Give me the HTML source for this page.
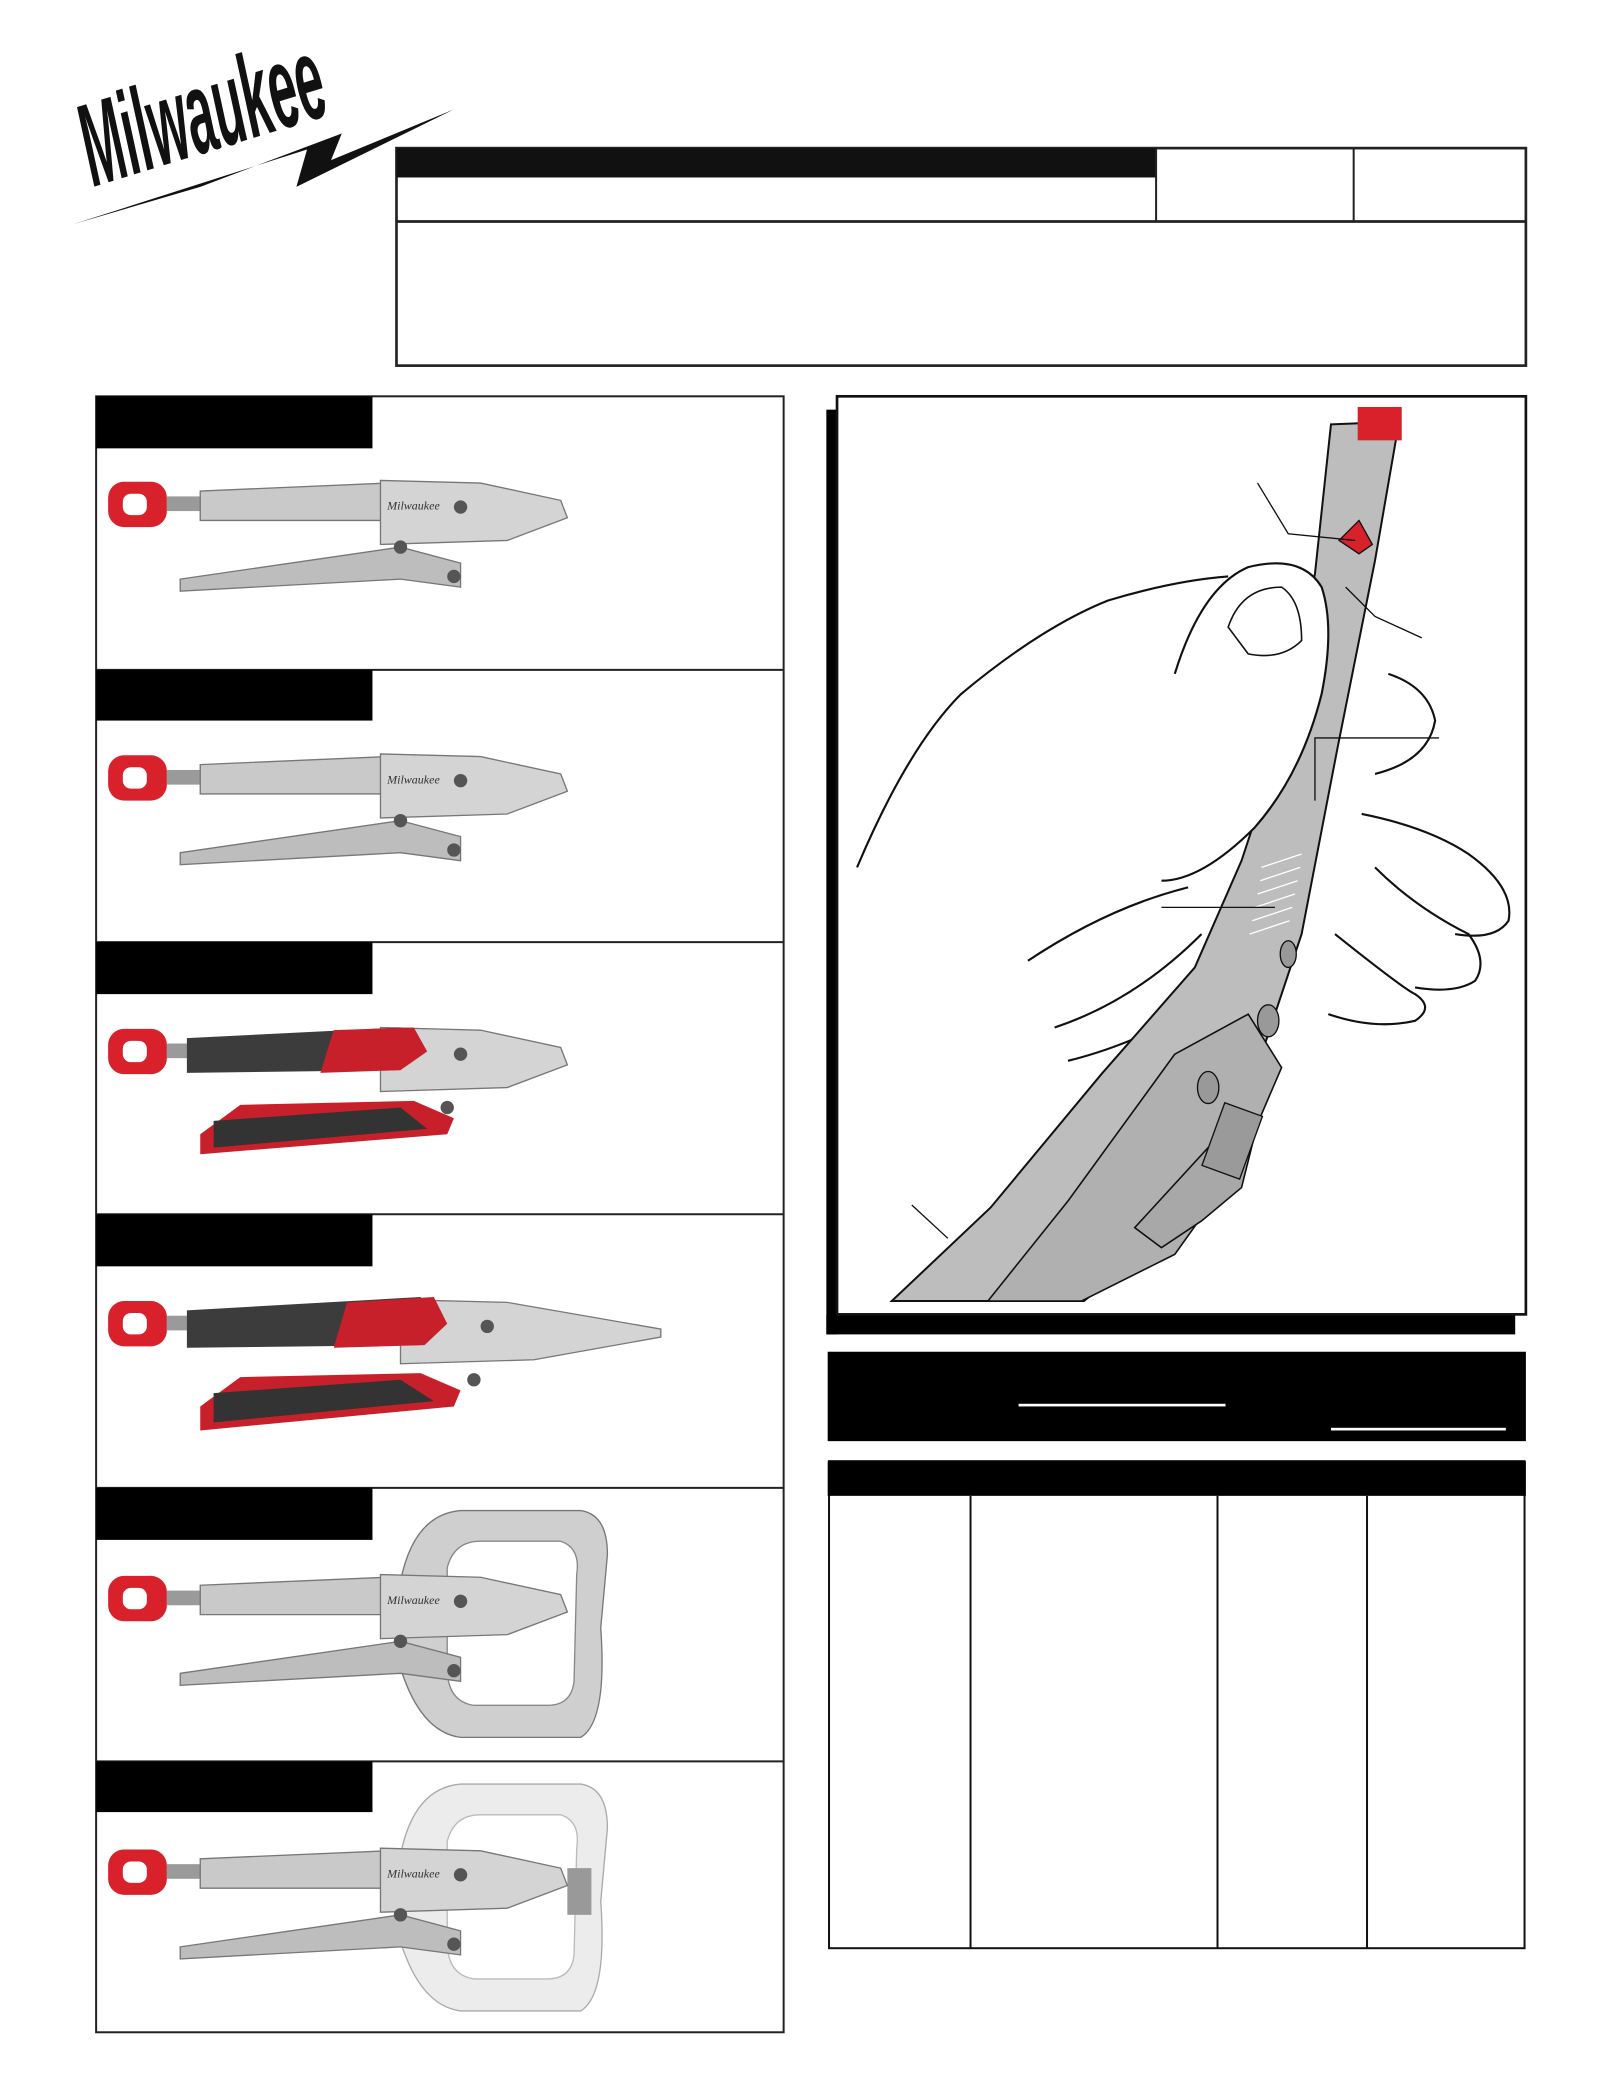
<!DOCTYPE html>
<html><head><meta charset="utf-8"><style>
html,body{margin:0;padding:0;background:#fff;}
svg{display:block;}
</style></head><body>
<svg width="1622" height="2099" viewBox="0 0 1215 1573" preserveAspectRatio="none" xmlns="http://www.w3.org/2000/svg">
<defs>
<g id="loop">
  <rect x="81" y="361" width="44" height="34" rx="12" fill="#d8212b"/>
  <rect x="92" y="370" width="18" height="16" rx="6" fill="#fff"/>
  <rect x="125" y="372" width="30" height="11" fill="#9a9a9a"/>
</g>
<g id="steelA">
  <polygon points="150,368 290,362 330,368 330,390 150,390" fill="#c9c9c9" stroke="#777" stroke-width="1"/>
  <polygon points="285,360 360,362 420,375 425,388 380,405 285,408" fill="#d4d4d4" stroke="#777" stroke-width="1"/>
  <polygon points="135,434 300,410 345,422 345,440 300,434 135,443" fill="#bdbdbd" stroke="#777" stroke-width="1"/>
  <circle cx="345" cy="380" r="5" fill="#555"/><circle cx="300" cy="410" r="5" fill="#555"/><circle cx="340" cy="432" r="5" fill="#555"/>
  <text x="290" y="382" font-family="Liberation Serif,serif" font-style="italic" font-size="9" fill="#333">Milwaukee</text>
</g>
</defs>

<!-- Logo -->
<g transform="translate(70,140) rotate(-17) scale(0.72,1.7)">
<text x="0" y="0" font-family="Liberation Sans Narrow,Liberation Sans,sans-serif" font-style="italic" font-weight="bold" font-size="52" fill="#111">Milwaukee</text>
</g>
<polygon points="55,168 230,112 222,140 340,82 248,120 256,100 150,140" fill="#111"/>

<!-- Header box -->
<rect x="297" y="111" width="846" height="163" fill="none" stroke="#222" stroke-width="2"/>
<rect x="297" y="111" width="569" height="22" fill="#111"/>
<line x1="297" y1="166" x2="1143" y2="166" stroke="#222" stroke-width="2"/>
<line x1="866" y1="111" x2="866" y2="166" stroke="#222" stroke-width="1.5"/>
<line x1="1014" y1="111" x2="1014" y2="166" stroke="#222" stroke-width="1.5"/>

<!-- Left column -->
<rect x="72" y="297" width="515" height="1226" fill="none" stroke="#222" stroke-width="1.5"/>
<g stroke="#222" stroke-width="1.5">
<line x1="72" y1="502" x2="587" y2="502"/><line x1="72" y1="706" x2="587" y2="706"/>
<line x1="72" y1="910" x2="587" y2="910"/><line x1="72" y1="1115" x2="587" y2="1115"/>
<line x1="72" y1="1320" x2="587" y2="1320"/>
</g>
<g fill="#000">
<rect x="72" y="297" width="207" height="39"/><rect x="72" y="502" width="207" height="38"/>
<rect x="72" y="706" width="207" height="39"/><rect x="72" y="910" width="207" height="39"/>
<rect x="72" y="1115" width="207" height="39"/><rect x="72" y="1320" width="207" height="38"/>
</g>

<use href="#loop"/><use href="#steelA"/>
<g transform="translate(0,205)"><use href="#loop"/><use href="#steelA"/></g>
<g transform="translate(0,410)">
  <use href="#loop"/>
  <polygon points="285,360 360,362 420,375 425,388 380,405 285,408" fill="#d4d4d4" stroke="#777"/>
  <polygon points="140,368 300,360 315,380 300,392 140,394" fill="#3c3c3c"/>
  <polygon points="250,362 310,360 320,378 300,392 240,394" fill="#c8202a"/>
  <polygon points="150,440 180,418 310,415 340,428 335,440 150,455" fill="#c8202a"/>
  <polygon points="160,430 300,420 320,436 160,450" fill="#333"/>
  <circle cx="345" cy="380" r="5" fill="#555"/><circle cx="335" cy="420" r="5" fill="#555"/>
</g>
<g transform="translate(0,614)">
  <use href="#loop"/>
  <polygon points="300,360 380,362 495,382 495,388 400,405 300,408" fill="#d4d4d4" stroke="#777"/>
  <polygon points="140,368 315,358 330,380 315,394 140,396" fill="#3c3c3c"/>
  <polygon points="260,362 325,358 335,378 318,394 250,396" fill="#c8202a"/>
  <polygon points="150,440 180,418 315,415 345,428 340,440 150,458" fill="#c8202a"/>
  <polygon points="160,430 300,420 325,436 160,452" fill="#333"/>
  <circle cx="365" cy="380" r="5" fill="#555"/><circle cx="355" cy="420" r="5" fill="#555"/>
</g>
<g transform="translate(0,820)">
  <path d="M300,365 Q310,315 345,312 L435,312 Q455,315 455,345 L450,400 Q455,470 435,482 L345,482 Q315,478 300,430 Z" fill="#cfcfcf" stroke="#777"/>
  <path d="M335,355 Q340,335 360,335 L420,335 Q435,340 432,360 L430,440 Q428,458 410,458 L355,458 Q335,455 335,430 Z" fill="#fff" stroke="#888"/>
  <use href="#loop"/><use href="#steelA"/>
</g>
<g transform="translate(0,1025)">
  <path d="M300,365 Q310,315 345,312 L435,312 Q455,315 455,345 L450,400 Q455,470 435,482 L345,482 Q315,478 300,430 Z" fill="#ececec" stroke="#aaa"/>
  <path d="M335,355 Q340,335 360,335 L420,335 Q435,340 432,360 L430,440 Q428,458 410,458 L355,458 Q335,455 335,430 Z" fill="#fff" stroke="#bbb"/>
  <rect x="425" y="375" width="18" height="35" fill="#999"/>
  <use href="#loop"/><use href="#steelA"/>
</g>

<!-- Right figure frame -->
<rect x="619" y="307" width="8" height="693" fill="#000"/>
<rect x="619" y="985" width="516" height="15" fill="#000"/>
<rect x="627" y="297" width="516" height="688" fill="#fff" stroke="#111" stroke-width="2"/>

<g fill="none" stroke="#111" stroke-width="1.6">
<path d="M642,650 Q680,560 720,520 Q780,470 830,450 Q880,435 920,432"/>
<path d="M1040,505 Q1070,515 1075,540 Q1070,570 1030,580"/>
<path d="M1020,610 Q1070,620 1100,640 Q1135,665 1130,690 Q1120,705 1090,700"/>
<path d="M1030,650 Q1060,680 1100,700 Q1115,720 1105,735 Q1090,745 1060,740"/>
<path d="M1000,700 Q1050,740 1060,745 Q1075,755 1060,765 Q1030,772 995,760"/>
<path d="M770,720 Q830,680 890,665"/>
<path d="M790,770 Q850,750 900,700"/>
<path d="M800,795 Q860,780 910,745"/>
</g>
<polygon points="997,318 1048,316 1030,420 1002,560 975,700 945,790 905,870 855,940 812,975 668,975 742,905 825,805 895,725 930,645 958,560 985,430" fill="#bdbdbd" stroke="#111" stroke-width="1.5"/>
<polygon points="880,790 935,760 960,800 930,870 880,940 810,975 740,975 800,900" fill="#b0b0b0" stroke="#111" stroke-width="1.2"/>
<polygon points="905,860 940,850 930,890 900,915 870,935 850,920" fill="#a8a8a8" stroke="#111" stroke-width="1.2"/>
<rect x="908" y="830" width="30" height="50" fill="#9a9a9a" stroke="#111" transform="rotate(20 923 855)"/>
<ellipse cx="950" cy="765" rx="8" ry="12" fill="#999" stroke="#111"/>
<ellipse cx="905" cy="815" rx="8" ry="12" fill="#999" stroke="#111"/>
<ellipse cx="965" cy="715" rx="6" ry="10" fill="#999" stroke="#111"/>
<g stroke="#fff" stroke-width="1">
<line x1="945" y1="650" x2="975" y2="640"/><line x1="944" y1="660" x2="974" y2="650"/><line x1="942" y1="670" x2="972" y2="660"/><line x1="940" y1="680" x2="970" y2="670"/><line x1="938" y1="690" x2="968" y2="680"/><line x1="936" y1="700" x2="966" y2="690"/>
</g>
<rect x="1017" y="305" width="33" height="25" fill="#d8212b"/>
<polygon points="1003,405 1018,390 1028,408 1018,415" fill="#d8212b" stroke="#111"/>
<path d="M880,505 Q900,440 935,425 Q975,415 990,440 Q1000,470 990,520 Q975,580 940,620 Q900,660 870,660" fill="#fff" stroke="#111" stroke-width="1.6"/>
<path d="M920,470 Q930,440 960,440 Q975,450 975,480 Q960,495 935,490 Z" fill="none" stroke="#111" stroke-width="1.2"/>
<g fill="none" stroke="#111" stroke-width="1">
<polyline points="942,362 965,400 1015,405"/>
<polyline points="1008,440 1030,462 1065,478"/>
<polyline points="1078,553 985,553 985,600"/>
<line x1="870" y1="680" x2="955" y2="680"/>
<line x1="683" y1="903" x2="710" y2="928"/>
</g>

<rect x="620" y="1013" width="523" height="67" fill="#000"/>
<rect x="763" y="1052" width="155" height="2" fill="#fff"/>
<rect x="997" y="1070" width="131" height="2" fill="#fff"/>

<rect x="621" y="1095" width="521" height="365" fill="none" stroke="#111" stroke-width="1.5"/>
<rect x="620" y="1095" width="523" height="26" fill="#000"/>
<g stroke="#111" stroke-width="1.5">
<line x1="727" y1="1121" x2="727" y2="1460"/><line x1="912" y1="1121" x2="912" y2="1460"/><line x1="1024" y1="1121" x2="1024" y2="1460"/>
</g>
</svg>
</body></html>
